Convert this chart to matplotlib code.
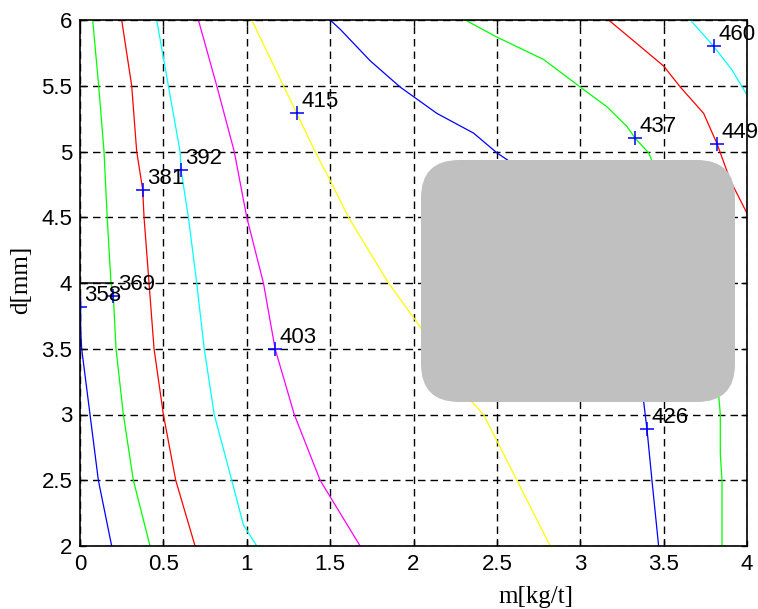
import numpy as np
import matplotlib
matplotlib.use('Agg')
import matplotlib.pyplot as plt
from matplotlib.patches import FancyBboxPatch
from matplotlib.transforms import IdentityTransform

# contour levels and their line colours
levels = [358, 369, 381, 392, 403, 415, 426, 437, 449, 460]
colors = ['#0000ff', '#00ff00', '#ff0000', '#00ffff', '#ff00ff',
          '#ffff00', '#0000ff', '#00ff00', '#ff0000', '#00ffff']

# traced iso-lines: m [kg/t] and d [mm]
m_358 = [0.004, 0.004, 0.01, 0.06, 0.11, 0.19]
d_358 = [3.89, 3.65, 3.5, 3.0, 2.5, 2.0]
m_369 = [0.076, 0.112, 0.144, 0.163, 0.186, 0.2, 0.216, 0.26, 0.32, 0.42]
d_369 = [6.0, 5.5, 5.0, 4.5, 4.0, 3.9, 3.5, 3.0, 2.5, 2.0]
m_381 = [0.25, 0.31, 0.34, 0.376, 0.384, 0.414, 0.444, 0.5, 0.574, 0.69]
d_381 = [6.0, 5.5, 5.0, 4.71, 4.5, 4.0, 3.5, 3.0, 2.5, 2.0]
m_392 = [0.46, 0.53, 0.6, 0.606, 0.65, 0.70, 0.745, 0.805, 0.91, 0.98, 1.06]
d_392 = [6.0, 5.5, 5.0, 4.86, 4.5, 4.0, 3.5, 3.0, 2.5, 2.16, 2.0]
m_403 = [0.71, 0.82, 0.925, 1.0, 1.1, 1.17, 1.285, 1.44, 1.5, 1.68]
d_403 = [6.0, 5.5, 5.0, 4.5, 4.0, 3.5, 3.0, 2.5, 2.375, 2.0]
m_415 = [1.03, 1.22, 1.30, 1.41, 1.50, 1.61, 1.85, 2.01, 2.20, 2.34, 2.42, 2.62, 2.82]
d_415 = [6.0, 5.5, 5.29, 5.0, 4.78, 4.5, 4.0, 3.72, 3.38, 3.11, 3.0, 2.5, 2.0]
m_426 = [1.50, 1.56, 1.74, 1.92, 2.14, 2.36, 2.50, 2.57, 3.38, 3.40, 3.43, 3.47]
d_426 = [6.0, 5.93, 5.69, 5.49, 5.29, 5.14, 4.99, 4.93, 3.10, 2.89, 2.5, 2.0]
m_437 = [2.31, 2.50, 2.78, 3.0, 3.16, 3.28, 3.33, 3.41, 3.43, 3.70, 3.83, 3.84, 3.84, 3.85, 3.85]
d_437 = [6.0, 5.87, 5.70, 5.49, 5.34, 5.19, 5.10, 4.99, 4.93, 4.0, 3.15, 3.0, 2.70, 2.5, 2.0]
m_449 = [3.17, 3.34, 3.50, 3.60, 3.74, 3.82, 3.90, 4.0]
d_449 = [6.0, 5.82, 5.65, 5.49, 5.29, 5.06, 4.78, 4.53]
m_460 = [3.66, 3.80, 3.91, 4.0]
d_460 = [6.0, 5.80, 5.62, 5.43]

lines_m = [m_358, m_369, m_381, m_392, m_403, m_415, m_426, m_437, m_449, m_460]
lines_d = [d_358, d_369, d_381, d_392, d_403, d_415, d_426, d_437, d_449, d_460]

# where each level is labelled
label_m = [0.0, 0.2, 0.376, 0.606, 1.17, 1.30, 3.40, 3.33, 3.82, 3.80]
label_d = [3.82, 3.90, 4.71, 4.86, 3.50, 5.29, 2.89, 5.10, 5.06, 5.80]

x_ticks = [0, 0.5, 1, 1.5, 2, 2.5, 3, 3.5, 4]
x_labels = ['0', '0.5', '1', '1.5', '2', '2.5', '3', '3.5', '4']
y_ticks = [2, 2.5, 3, 3.5, 4, 4.5, 5, 5.5, 6]
y_labels = ['2', '2.5', '3', '3.5', '4', '4.5', '5', '5.5', '6']

fig = plt.figure(figsize=(7.58, 6.09), dpi=100)
ax = fig.add_axes([80/758, 63/609, 667/758, 526/609])

for m, d, c in zip(lines_m, lines_d, colors):
    ax.plot(m, d, color=c, lw=0.9, zorder=3)

ax.plot(label_m, label_d, '+', color='#0000ff', ms=10, mew=1.1, zorder=4)
for lev, m, d in zip(levels, label_m, label_d):
    ax.annotate(str(lev), (m, d), xytext=(3.2, 4.3), textcoords='offset points',
                fontsize=16, family='Liberation Sans', va='baseline', zorder=5)

# solid stub of the d=4 grid line under the first two labels
ax.plot([0, label_m[1]], [4, 4], color='k', lw=1.1, zorder=4)

ax.set_xlim(0, 4)
ax.set_ylim(2, 6)
ax.set_xticks(x_ticks)
ax.set_xticklabels(x_labels)
ax.set_yticks(y_ticks)
ax.set_yticklabels(y_labels)
ax.tick_params(direction='in', length=4, width=1, top=True, right=True,
               labelsize=16, pad=5.5)
for lab in ax.get_xticklabels() + ax.get_yticklabels():
    lab.set_family('Liberation Sans')
ax.grid(True, color='k', linestyle=(0, (5.4, 3.6)), linewidth=1.0, zorder=1)
ax.set_axisbelow(True)
for s in ax.spines.values():
    s.set_linewidth(1.2)
    s.set_zorder(6)

ax.set_xlabel('m[kg/t]', family='Liberation Serif', fontsize=18)
ax.xaxis.set_label_coords(0.684, -0.097)
ax.xaxis.label.set_va('center')
ax.set_ylabel('d[mm]', family='Liberation Serif', fontsize=18)
ax.yaxis.set_label_coords(-0.088, 0.505)
ax.yaxis.label.set_va('center')

# grey rounded panel over the middle-right region
box = FancyBboxPatch((421, 609 - 402), 314, 242,
                     boxstyle='round,pad=0,rounding_size=38',
                     transform=IdentityTransform(), facecolor='#c0c0c0',
                     edgecolor='none', zorder=10)
fig.add_artist(box)

fig.savefig('out.png', dpi=100)
